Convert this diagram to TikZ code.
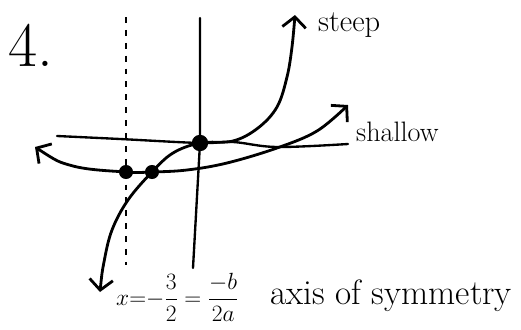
\RequirePackage{fix-cm}
\documentclass[tikz,border=0pt]{standalone}
\usepackage{amsmath}
\usepackage{fontspec}
\usepackage{tikz}
\usetikzlibrary{arrows.meta, positioning}

\begin{document}
\begin{tikzpicture}[
      x=0.03cm, y=-0.03cm,
      % Styles
      pen/.style={
        line width=2.4pt, line cap=round, line join=round
      },
      axis_line/.style={
        pen, line width=2pt
      },
      sym_line/.style={
        line width=1.1pt, dash pattern=on 5pt off 6pt
      },
      curve/.style={
        pen, {Straight Barb[length=9pt,width=20pt]}-{Straight Barb[length=9pt,width=20pt]}
      },
      point/.style={
        circle, fill, inner sep=0pt, minimum size=12pt
      },
      hand_text/.style={
        font=\fontsize{26}{28}\selectfont, inner sep=0pt
      }
    ]

    \useasboundingbox (0,0) rectangle (521,329);

    % --- 1. COORDINATES ---
    \coordinate (left_point) at (126,172);
    \coordinate (mid_point) at (152,172);
    \coordinate (origin) at (200,143);

    % --- 2. AXES ---

    % axis of symmetry (dashed)
    \draw[sym_line] (126,17) -- (126,265);

    % y axis
    \draw[axis_line] (200,18) -- (origin) -- (193,268);

    % x axis
    \draw[axis_line] plot[smooth, tension=0.6] coordinates {
        (57,136) (120,139) (origin) (233,142) (277,147) (348,144)};

    % --- 3. CURVES ---

    % shallow parabola
    \draw[curve] plot[smooth, tension=0.6] coordinates {
        (35,147) (73,166) (left_point) (mid_point) (187,170)
        (227,163) (277,148) (317,131) (348,105)};

    % steep curve
    \draw[curve] plot[smooth, tension=0.6] coordinates {
        (100,292) (104,262) (112,230) (128,200) (mid_point)
        (173,153) (origin) (233,141) (258,128) (277,107)
        (287,77) (292,47) (295,15)};

    % --- 4. POINTS ---
    \node[point] (dot_left) at (left_point) {};
    \node[point] (dot_mid) at (mid_point) {};
    \node[point, minimum size=14pt] (dot_origin) at (origin) {};

    % --- 5. LABELS ---
    \node[font=\fontsize{54}{56}\selectfont, inner sep=0pt, anchor=base west] (number) at (8,66) {4.};
    \node[hand_text, anchor=base west] (steep) at (318,31) {steep};
    \node[hand_text, font=\fontsize{24}{26}\selectfont, anchor=base west] (shallow) at (356,141) {shallow};
    \node[inner sep=0pt, anchor=west, font=\fontsize{20}{22}\selectfont] (formula) at (116,297)
        {$x{=}{-}\dfrac{3}{2}=\dfrac{-b}{2a}$};
    \node[hand_text, font=\fontsize{30}{32}\selectfont, anchor=base west] (axis_label) at (270,304) {axis of symmetry};

\end{tikzpicture}
\end{document}
